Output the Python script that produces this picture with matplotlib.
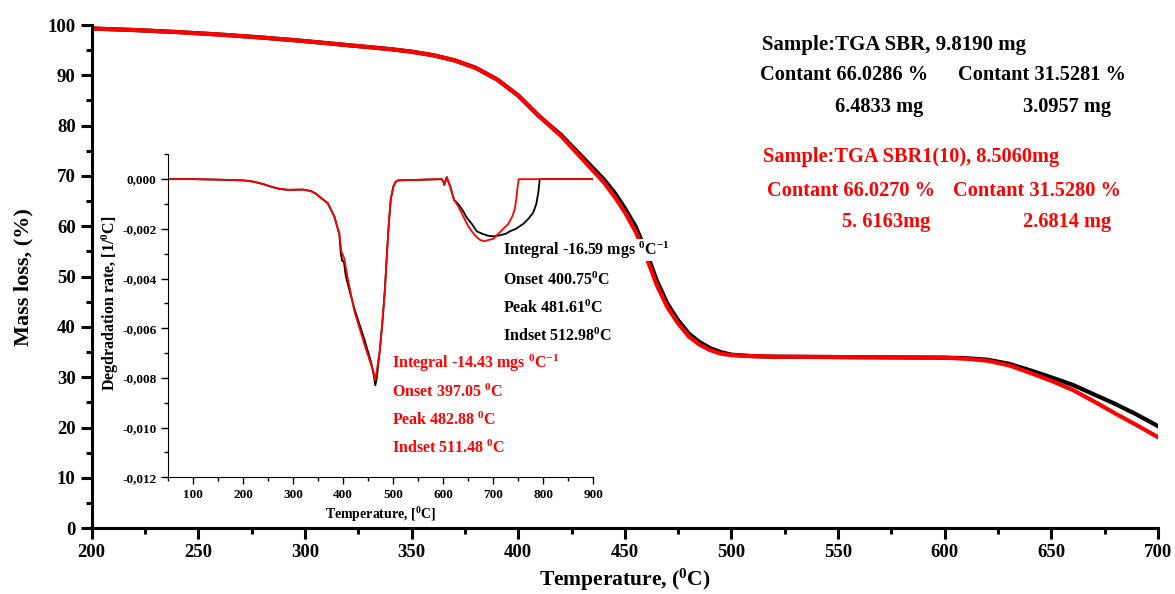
import matplotlib
matplotlib.use('Agg')
import matplotlib.pyplot as plt
from matplotlib.ticker import MultipleLocator, FuncFormatter

plt.rcParams['font.family'] = ['Liberation Serif', 'DejaVu Serif']
plt.rcParams['font.weight'] = 'bold'
plt.rcParams['mathtext.fontset'] = 'custom'
plt.rcParams['mathtext.rm'] = 'Liberation Serif:bold'
plt.rcParams['mathtext.bf'] = 'Liberation Serif:bold'
plt.rcParams['mathtext.it'] = 'Liberation Serif:bold:italic'
plt.rcParams['mathtext.default'] = 'rm'

# main TGA curves (mass loss, %)
temp_sbr = [200, 220, 240, 260, 280, 300, 320, 340, 350, 360, 370, 380, 390, 400, 410,
            420, 430, 440, 445, 450, 455, 460, 465, 470, 475, 480, 485, 490, 495, 500,
            510, 520, 560, 600, 610, 620, 630, 640, 650, 660, 670, 680, 690, 700]
mass_sbr = [99.3, 99.0, 98.6, 98.1, 97.5, 96.8, 96.0, 95.2, 94.7, 94.0, 93.0, 91.5, 89.2, 86.0, 81.8,
            78.2, 73.8, 69.4, 66.8, 63.6, 60.0, 55.0, 49.2, 44.6, 41.3, 38.7, 37.0, 35.8, 35.0, 34.5,
            34.2, 34.1, 34.0, 33.9, 33.8, 33.5, 32.7, 31.4, 30.0, 28.5, 26.6, 24.7, 22.6, 20.3]
temp_sbr1 = [200, 220, 240, 260, 280, 300, 320, 340, 350, 360, 370, 380, 390, 400, 410,
             420, 430, 440, 445, 450, 455, 460, 465, 470, 475, 480, 485, 490, 495, 500,
             510, 520, 560, 600, 610, 620, 630, 640, 650, 660, 670, 680, 690, 700]
mass_sbr1 = [99.3, 99.0, 98.6, 98.1, 97.5, 96.8, 96.0, 95.2, 94.7, 94.0, 93.0, 91.5, 89.2, 86.0, 81.8,
             78.0, 73.4, 68.8, 66.0, 62.8, 59.0, 54.0, 48.3, 43.9, 40.7, 38.1, 36.5, 35.4, 34.7, 34.4,
             34.2, 34.1, 34.0, 33.9, 33.7, 33.3, 32.4, 30.9, 29.3, 27.5, 25.2, 22.8, 20.5, 18.1]

# inset DTG curves (degradation rate, 1/degC)
dtg_t_sbr = [50, 100, 150, 200, 220, 240, 260, 275, 290, 320, 335, 345, 355, 369, 382, 392,
             395, 398, 401, 405, 410, 422, 443, 456, 461, 464, 467, 473, 478, 483, 487,
             491, 495, 500, 505, 510, 597, 600, 602, 604, 607, 610, 614, 618, 622, 630,
             640, 647, 657, 667, 678, 690, 700, 713, 725, 733, 745, 760, 770, 780, 786,
             790, 793, 900]
dtg_sbr = [0, 0, -0.00002, -0.00005, -0.0001, -0.0002, -0.00033, -0.0004, -0.00043, -0.00042,
           -0.00048, -0.00058, -0.00075, -0.00097, -0.0015, -0.0022,
           -0.0030, -0.0033, -0.0033, -0.0039, -0.0043, -0.0052, -0.0065, -0.0074, -0.0079,
           -0.0083, -0.0080, -0.0069, -0.0058, -0.0045, -0.0031,
           -0.0018, -0.0008, -0.0003, -0.0001, -0.00005, 0, -0.0001, -0.00023, -0.0001,
           0.00008, -0.0001, -0.0003, -0.0006, -0.00085, -0.0010,
           -0.0013, -0.00155, -0.0018, -0.0021, -0.0022, -0.00228, -0.0023, -0.00226,
           -0.0022, -0.0021, -0.0020, -0.0018, -0.0016, -0.00134, -0.0010,
           -0.00054, 0, 0]
dtg_t_sbr1 = [50, 100, 150, 200, 220, 240, 260, 275, 290, 320, 335, 345, 355, 369, 382, 392,
              396, 398, 402, 409, 422, 443, 456, 461, 463.5, 467, 473, 478, 483, 487,
              491, 495, 500, 505, 510, 597, 600, 602, 604, 607, 610, 614, 618, 622, 630,
              640, 650, 657, 665, 673, 682, 690, 700, 710, 720, 730, 738, 743, 746, 748,
              751, 900]
dtg_sbr1 = [0, 0, -0.00002, -0.00005, -0.0001, -0.0002, -0.00033, -0.0004, -0.00043, -0.00042,
            -0.00048, -0.00058, -0.00075, -0.00097, -0.0015, -0.0022,
            -0.0029, -0.0030, -0.0032, -0.0040, -0.0053, -0.0067, -0.0075, -0.0078,
            -0.0081, -0.0077, -0.0069, -0.0058, -0.0045, -0.0031,
            -0.0018, -0.0008, -0.0003, -0.0001, -0.00005, 0, -0.0001, -0.00023, -0.0001,
            0.00008, -0.0001, -0.0003, -0.0006, -0.00085, -0.0011,
            -0.0015, -0.0019, -0.0021, -0.0023, -0.00244, -0.0025, -0.00245, -0.0024, -0.0022,
            -0.0020, -0.0018, -0.0015, -0.0012, -0.0008, -0.0004,
            0, 0]

W, H = 1175, 594
fig = plt.figure(figsize=(W / 100, H / 100), dpi=100)

ax = fig.add_axes([91.7 / W, 1 - 528.3 / H, (1158 - 91.7) / W, (528.3 - 25) / H])
ax.plot(temp_sbr, mass_sbr, color='black', lw=3)
ax.plot(temp_sbr1, mass_sbr1, color='red', lw=3)
ax.set_xlim(200, 700)
ax.set_ylim(0, 100)
ax.xaxis.set_major_locator(MultipleLocator(50))
ax.xaxis.set_minor_locator(MultipleLocator(25))
ax.yaxis.set_major_locator(MultipleLocator(10))
ax.yaxis.set_minor_locator(MultipleLocator(5))
for s in ['top', 'right']:
    ax.spines[s].set_visible(False)
for s in ['left', 'bottom']:
    ax.spines[s].set_linewidth(2.2)
ax.tick_params(which='major', length=8, width=2.2, labelsize=13.5, direction='out')
ax.tick_params(which='minor', length=4.5, width=2.2, direction='out')
ax.set_xlabel('Temperature, ($^{0}$C)', fontsize=15.5, fontweight='bold', labelpad=4)
ax.set_ylabel('Mass loss, (%)', fontsize=16, fontweight='bold', labelpad=10)

ins = fig.add_axes([168.3 / W, 1 - 477.3 / H, (593.3 - 168.3) / W, (477.3 - 154.3) / H])
ins.patch.set_alpha(0)
ins.plot(dtg_t_sbr, dtg_sbr, color='black', lw=1.3)
ins.plot(dtg_t_sbr1, dtg_sbr1, color='red', lw=1.3)
ins.set_xlim(50, 900)
ins.set_ylim(-0.012, 0.001)
ins.xaxis.set_major_locator(MultipleLocator(100))
ins.xaxis.set_minor_locator(MultipleLocator(50))
ins.yaxis.set_major_locator(MultipleLocator(0.002))
ins.yaxis.set_minor_locator(MultipleLocator(0.001))
ins.yaxis.set_major_formatter(FuncFormatter(lambda v, p: ('%.3f' % v).replace('.', ',')))
for s in ['top', 'right']:
    ins.spines[s].set_visible(False)
ins.tick_params(which='major', length=5, width=1, labelsize=9.5, direction='out')
ins.tick_params(which='minor', length=3, width=1, direction='out')
ins.set_xlabel('Temperature, [$^{0}$C]', fontsize=10, fontweight='bold', labelpad=3)
ins.set_ylabel('Degdradation rate, [1/$^{0}$C]', fontsize=11.5, fontweight='bold')
ins.yaxis.set_label_coords(-0.112, 0.54)


def txt(x, y, s, color='black', size=14.7, **kw):
    fig.text(x / W, 1 - y / H, s, color=color, fontsize=size, fontweight='bold',
             ha='left', va='center', **kw)


red = '#ff0000'
txt(762, 45, 'Sample:TGA SBR, 9.8190 mg', size=15)
txt(760, 75, 'Contant 66.0286 %')
txt(958, 75, 'Contant 31.5281 %')
txt(835, 107, '6.4833 mg')
txt(1023, 107, '3.0957 mg')
txt(763, 157, 'Sample:TGA SBR1(10), 8.5060mg', red)
txt(767, 191, 'Contant 66.0270 %', red)
txt(953, 191, 'Contant 31.5280 %', red)
txt(842, 222, '5. 6163mg', red)
txt(1023, 222, '2.6814 mg', red)

txt(503, 250, 'Integral -16.59 mgs $^{0}$C$^{-1}$', size=11.5,
    bbox=dict(facecolor='white', edgecolor='none', pad=0))
txt(503, 280, 'Onset 400.75$^{0}$C', size=11.5)
txt(503, 308, 'Peak 481.61$^{0}$C', size=11.5)
txt(503, 336, 'Indset 512.98$^{0}$C', size=11.5)
txt(392, 363, 'Integral -14.43 mgs $^{0}$C$^{-1}$', red, size=11.5)
txt(392, 392, 'Onset 397.05 $^{0}$C', red, size=11.5)
txt(392, 420, 'Peak 482.88 $^{0}$C', red, size=11.5)
txt(392, 448, 'Indset 511.48 $^{0}$C', red, size=11.5)

plt.savefig('out.png', dpi=100)
